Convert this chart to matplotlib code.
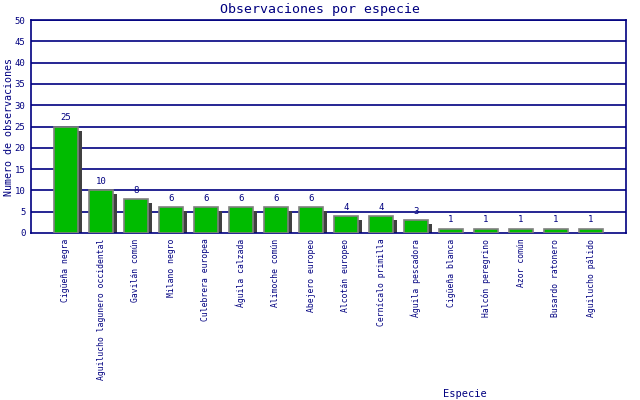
import numpy as np
import matplotlib
matplotlib.use('Agg')
import matplotlib.pyplot as plt
import matplotlib.transforms as mtransforms

especies = ['Cigüeña negra', 'Aguilucho lagunero occidental', 'Gavilán común',
            'Milano negro', 'Culebrera europea', 'Águila calzada', 'Alimoche común',
            'Abejero europeo', 'Alcotán europeo', 'Cernícalo primilla',
            'Águila pescadora', 'Cigüeña blanca', 'Halcón peregrino', 'Azor común',
            'Busardo ratonero', 'Aguilucho pálido']
observaciones = [25, 10, 8, 6, 6, 6, 6, 6, 4, 4, 3, 1, 1, 1, 1, 1]
y_ticks = [0, 5, 10, 15, 20, 25, 30, 35, 40, 45, 50]

navy = '#000080'
mono = 'DejaVu Sans Mono'

fig = plt.figure(figsize=(6.4, 4.0), dpi=100)
ax = fig.add_axes([31 / 640, 1 - 233 / 400, 595 / 640, 213 / 400])

x = np.arange(len(especies))

# sombra desplazada 4px a la derecha y hacia abajo
shadow = mtransforms.offset_copy(ax.transData, fig=fig, x=4, y=-4, units='dots')
ax.bar(x, observaciones, width=0.7, color='#404040', transform=shadow, zorder=2)
ax.bar(x, observaciones, width=0.7, color='#00bb00', edgecolor='#808080',
       linewidth=1.2, zorder=3)

for xi, v in zip(x, observaciones):
    ax.text(xi, v + 1.0, '%d' % v, ha='center', va='bottom', fontsize=6.5,
            family=mono, color=navy, zorder=4)

ax.set_xlim(-1, 16)
ax.set_ylim(0, 50)
ax.set_yticks(y_ticks)
ax.set_yticklabels(['%d' % t for t in y_ticks], family=mono, fontsize=6.5, color=navy)
ax.set_xticks(x)
ax.set_xticklabels(especies, rotation=90, family=mono, fontsize=5.8, color=navy,
                   va='top', ha='center')
ax.tick_params(axis='both', length=0, pad=4)
ax.tick_params(axis='x', pad=4)

for t in y_ticks[1:]:
    ax.axhline(t, color=navy, linewidth=1.2, zorder=1)
for s in ax.spines.values():
    s.set_color(navy)
    s.set_linewidth(1.2)

fig.text(0.5, 1 - 9 / 400, 'Observaciones por especie', ha='center', va='center',
         family=mono, fontsize=9.5, color=navy)
fig.text(9 / 640, 1 - 127 / 400, 'Numero de observaciones', rotation=90,
         ha='center', va='center', family=mono, fontsize=7.2, color=navy)
fig.text(465 / 640, 1 - 394 / 400, 'Especie', ha='center', va='center',
         family=mono, fontsize=7.5, color=navy)

plt.savefig('out.png', dpi=100)
